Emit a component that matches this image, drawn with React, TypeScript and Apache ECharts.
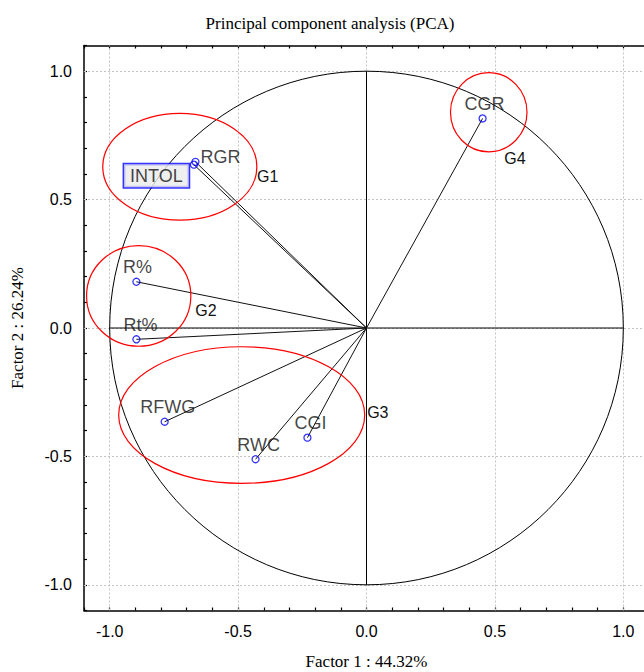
import React, { useEffect, useRef } from "react";
import * as echarts from "echarts";

// ---- Data ----
const variableNames = ["CGR", "RGR", "INTOL", "R%", "Rt%", "RFWG", "RWC", "CGI"];
const factor1Loadings = [0.452, -0.666, -0.672, -0.896, -0.896, -0.786, -0.432, -0.23];
const factor2Loadings = [0.816, 0.647, 0.636, 0.18, -0.044, -0.365, -0.511, -0.427];

// group ellipses: [centerX, centerY, radiusX, radiusY] in factor units
const groupNames = ["G1", "G2", "G3", "G4"];
const groupEllipses = [
  [-0.727, 0.628, 0.3, 0.208],
  [-0.887, 0.125, 0.203, 0.196],
  [-0.486, -0.339, 0.479, 0.266],
  [0.476, 0.84, 0.149, 0.154],
];
const groupLabelPositions = [
  [-0.385, 0.588],
  [-0.625, 0.07],
  [0.044, -0.33],
  [0.578, 0.661],
];

const axisMin = -1.1;
const axisMax = 1.1;
const tickStep = 0.1;
const gridLineValues = [-1, -0.5, 0, 0.5, 1];
const correlationRadius = 1;

const titleText = "Principal component analysis (PCA)";
const xAxisTitle = "Factor 1 : 44.32%";
const yAxisTitle = "Factor 2 : 26.24%";

const SANS = "'Liberation Sans', Arial, sans-serif";
const SERIF = "'Liberation Serif', 'Times New Roman', serif";

const labelPlacement: Record<string, any> = {
  CGR: { position: "top", distance: 1, offset: [2, 0] },
  RGR: { position: "right", distance: 1, offset: [0, -5] },
  INTOL: {
    position: "left",
    distance: 1,
    offset: [0, 11],
    backgroundColor: "#ebebeb",
    borderColor: "#0000ff",
    borderWidth: 1.5,
    padding: [2, 6, 2, 6],
  },
  "R%": { position: "top", distance: 1, offset: [1, 0] },
  "Rt%": { position: "top", distance: 1, offset: [4, 0] },
  RFWG: { position: "top", distance: 1, offset: [3, 0] },
  RWC: { position: "top", distance: 1, offset: [3, 0] },
  CGI: { position: "top", distance: 1, offset: [3, 0] },
};

function tickLabel(v: number): string {
  const h = v * 2;
  if (Math.abs(h - Math.round(h)) > 1e-6) return "";
  const r = Math.round(h) / 2;
  return (Math.abs(r) < 1e-9 ? 0 : r).toFixed(1);
}

export default function App() {
  const ref = useRef<HTMLDivElement>(null);

  useEffect(() => {
    if (!ref.current) return;
    const chart = echarts.init(ref.current, undefined, { renderer: "svg" });

    const baseAxis = {
      type: "value",
      min: axisMin,
      max: axisMax,
      interval: tickStep,
      axisLine: { show: true, onZero: false, lineStyle: { color: "#000", width: 1.5 } },
      axisTick: { show: true, inside: true, length: 3, lineStyle: { color: "#000", width: 1.2 } },
      splitLine: { show: false },
    };

    const pointData = variableNames.map((n, i) => ({
      name: n,
      value: [factor1Loadings[i], factor2Loadings[i]],
      label: {
        show: true,
        formatter: n,
        color: "#111",
        fontFamily: SANS,
        fontSize: 18,
        lineHeight: 19,
        ...labelPlacement[n],
      },
    }));

    const option: any = {
      animation: false,
      backgroundColor: "#ffffff",
      title: {
        text: titleText,
        left: 325,
        top: 10,
        textAlign: "center",
        textStyle: { fontFamily: SERIF, fontSize: 17, fontWeight: "normal", color: "#000" },
      },
      grid: {
        left: 84,
        top: 45.5,
        width: 565,
        height: 565,
        containLabel: false,
        outerBoundsMode: "none",
      },
      xAxis: [
        {
          ...baseAxis,
          position: "bottom",
          name: xAxisTitle,
          nameLocation: "middle",
          nameGap: 42,
          nameTextStyle: { fontFamily: SERIF, fontSize: 17, color: "#000" },
          axisLabel: { show: true, formatter: tickLabel, color: "#000", fontFamily: SANS, fontSize: 16, margin: 13 },
        },
        { ...baseAxis, position: "top", axisLabel: { show: false } },
      ],
      yAxis: [
        {
          ...baseAxis,
          position: "left",
          name: yAxisTitle,
          nameLocation: "middle",
          nameGap: 58,
          nameTextStyle: { fontFamily: SERIF, fontSize: 17, color: "#000" },
          axisLabel: { show: true, formatter: tickLabel, color: "#000", fontFamily: SANS, fontSize: 16, margin: 12 },
        },
        { ...baseAxis, position: "right", axisLabel: { show: false } },
      ],
      series: [
        // dotted grid lines
        {
          type: "line",
          data: [],
          z: 1,
          silent: true,
          markLine: {
            z: 1,
            silent: true,
            symbol: ["none", "none"],
            label: { show: false },
            lineStyle: { type: [2, 2], color: "#c4c4c4", width: 1 },
            data: [
              ...gridLineValues.map((v) => ({ xAxis: v })),
              ...gridLineValues.map((v) => ({ yAxis: v })),
            ],
          },
        },
        // unit correlation circle
        {
          type: "custom",
          z: 6,
          silent: true,
          data: [[0, 0, correlationRadius]],
          renderItem: (params: any, api: any) => {
            const c = api.coord([api.value(0), api.value(1)]);
            const s = api.size([api.value(2), api.value(2)]);
            return {
              type: "ellipse",
              shape: { cx: c[0], cy: c[1], rx: s[0], ry: s[1] },
              style: { fill: "none", stroke: "#000", lineWidth: 1 },
            };
          },
        },
        // axes cross through origin (from -1 to 1)
        {
          type: "line",
          z: 7,
          silent: true,
          symbol: "none",
          data: [
            [-correlationRadius, 0],
            [correlationRadius, 0],
          ],
          lineStyle: { color: "#000", width: 1 },
        },
        {
          type: "line",
          z: 7,
          silent: true,
          symbol: "none",
          data: [
            [0, -correlationRadius],
            [0, correlationRadius],
          ],
          lineStyle: { color: "#000", width: 1 },
        },
        // loading vectors
        {
          type: "custom",
          z: 8,
          silent: true,
          data: variableNames.map((n, i) => [factor1Loadings[i], factor2Loadings[i]]),
          renderItem: (params: any, api: any) => {
            const p0 = api.coord([0, 0]);
            const p1 = api.coord([api.value(0), api.value(1)]);
            return {
              type: "line",
              shape: { x1: p0[0], y1: p0[1], x2: p1[0], y2: p1[1] },
              style: { stroke: "#111", lineWidth: 1 },
            };
          },
        },
        // group ellipses
        {
          type: "custom",
          z: 9,
          silent: true,
          data: groupEllipses,
          renderItem: (params: any, api: any) => {
            const c = api.coord([api.value(0), api.value(1)]);
            const s = api.size([api.value(2), api.value(3)]);
            return {
              type: "ellipse",
              shape: { cx: c[0], cy: c[1], rx: s[0], ry: s[1] },
              style: { fill: "none", stroke: "#ff0000", lineWidth: 1.2 },
            };
          },
        },
        // group labels
        {
          type: "custom",
          z: 10,
          silent: true,
          data: groupNames.map((g, i) => [groupLabelPositions[i][0], groupLabelPositions[i][1], g]),
          renderItem: (params: any, api: any) => {
            const c = api.coord([api.value(0), api.value(1)]);
            return {
              type: "text",
              x: c[0],
              y: c[1],
              style: {
                text: groupNames[params.dataIndex],
                font: `16px ${SANS}`,
                fill: "#111",
                align: "center",
                verticalAlign: "middle",
              },
            };
          },
        },
        // variable points
        {
          type: "scatter",
          z: 11,
          symbol: "circle",
          symbolSize: 7,
          itemStyle: { color: "rgba(255,255,255,0)", borderColor: "#0000ff", borderWidth: 1.3 },
          data: pointData,
        },
      ],
    };

    chart.setOption(option);
    return () => chart.dispose();
  }, []);

  return (
    <div
      ref={ref}
      style={{ position: "absolute", left: 0, top: 0, width: 644, height: 672, background: "#fff" }}
    />
  );
}
